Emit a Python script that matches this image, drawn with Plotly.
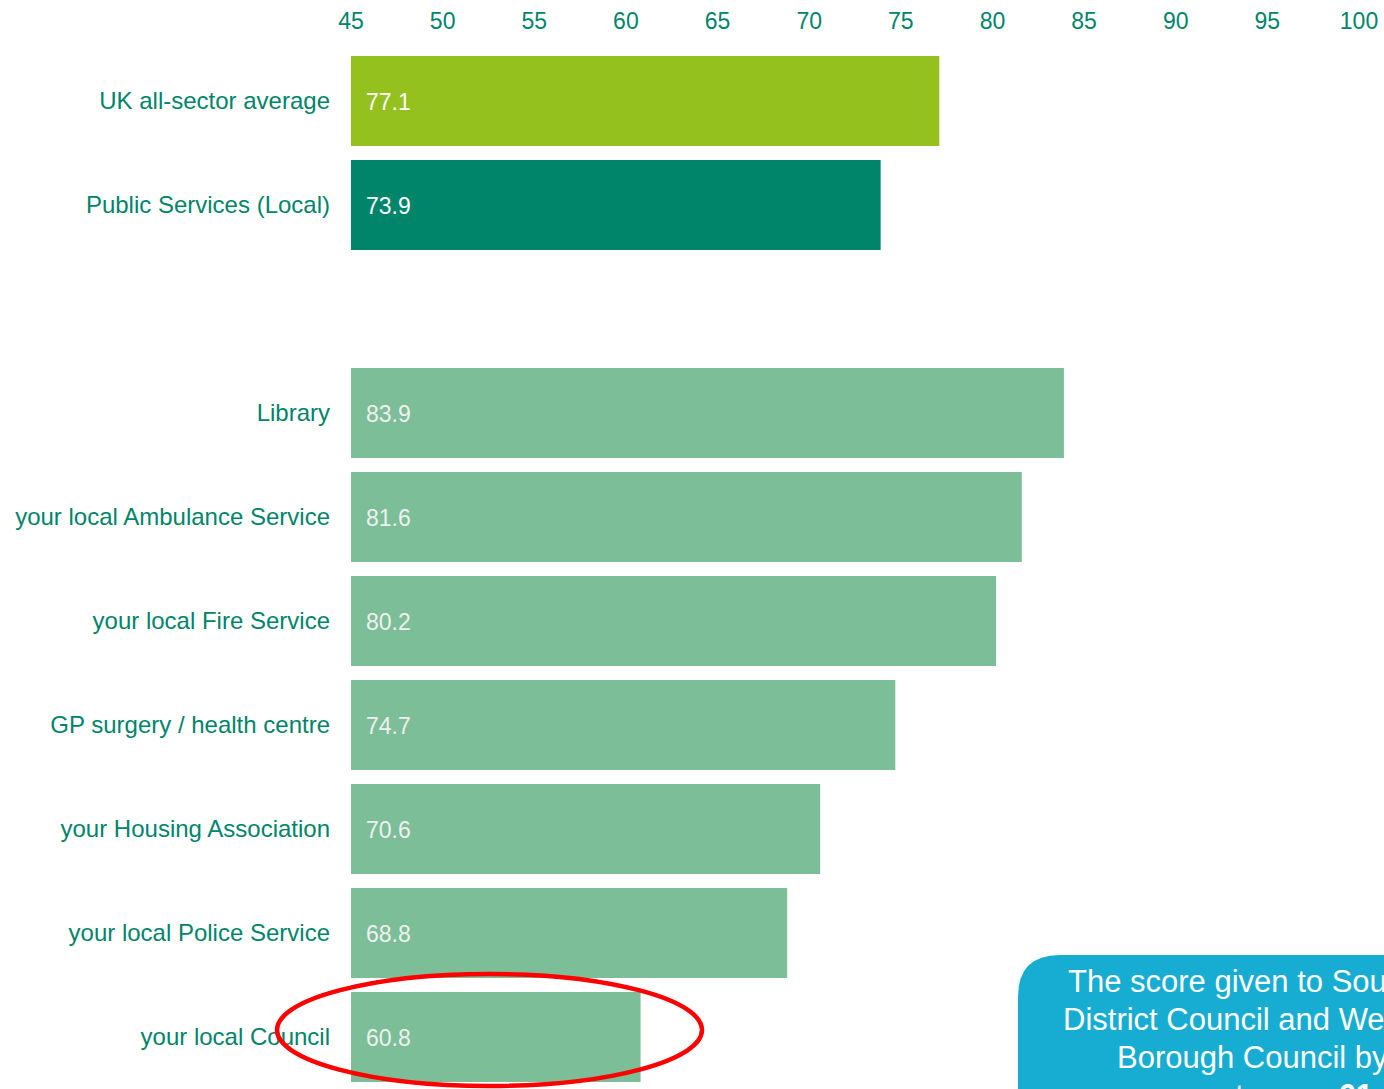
import plotly.graph_objects as go

categories = ["UK all-sector average", "Public Services (Local)", " ",
              "Library", "your local Ambulance Service", "your local Fire Service",
              "GP surgery / health centre", "your Housing Association",
              "your local Police Service", "your local Council"]
scores = [77.1, 73.9, None, 83.9, 81.6, 80.2, 74.7, 70.6, 68.8, 60.8]
bar_colors = ["#95C11F", "#00856A", "#FFFFFF", "#7BBE97", "#7BBE97", "#7BBE97",
              "#7BBE97", "#7BBE97", "#7BBE97", "#7BBE97"]
label_colors = ["#FFFFFF", "#FFFFFF", "#FFFFFF", "#F0F0F0", "#F0F0F0", "#F0F0F0",
                "#F0F0F0", "#F0F0F0", "#F0F0F0", "#F0F0F0"]
x_ticks = [45, 50, 55, 60, 65, 70, 75, 80, 85, 90, 95, 100]
box_lines = ["The score given to South Somerset",
             "District Council and West Somerset",
             "Borough Council by",
             "customers <b>61</b>"]
box_line_starts = [1066, 1061, 1115, 1185]

W, H = 1384, 1089
ML, MR, MT, MB = 351, W - 1359, 49, 0
PW, PH = W - ML - MR, H - MT - MB


def px(x):
    return (x - ML) / PW


def py(y):
    return (H - MB - y) / PH


GREEN = "#00856A"
FONT = "Liberation Sans, Arial, sans-serif"

fig = go.Figure()
fig.add_trace(go.Bar(
    y=categories, x=scores, orientation="h",
    marker=dict(color=bar_colors, line=dict(width=0)),
    hoverinfo="skip", showlegend=False,
))

for cat, val, col in zip(categories, scores, label_colors):
    if val is None:
        continue
    fig.add_annotation(x=x_ticks[0], y=cat, xref="x", yref="y", text=f"{val:.1f}",
                       showarrow=False, xanchor="left", yanchor="middle", xshift=13,
                       yshift=-1, font=dict(family=FONT, size=23, color=col))

# rounded info box
bx0, by0, r = 1018, 955, 42
bx1, by1 = 1600, 1300
path = (f"M {px(bx0)},{py(by0 + r)} "
        f"Q {px(bx0)},{py(by0)} {px(bx0 + r)},{py(by0)} "
        f"L {px(bx1)},{py(by0)} L {px(bx1)},{py(by1)} L {px(bx0)},{py(by1)} Z")
fig.add_shape(type="path", path=path, xref="paper", yref="paper",
              fillcolor="#17ADD3", line=dict(width=0), layer="above")

for i, (t, sx) in enumerate(zip(box_lines, box_line_starts)):
    fig.add_annotation(x=px(sx), y=py(981 + 38 * i), xref="paper", yref="paper",
                       text=t, showarrow=False, xanchor="left", yanchor="middle",
                       font=dict(family=FONT, size=31, color="#FFFFFF"))

# red ellipse highlighting the council bar
fig.add_shape(type="circle", xref="paper", yref="paper",
              x0=px(277), x1=px(702), y0=py(1086), y1=py(974),
              line=dict(color="#FF0000", width=4.5), fillcolor="rgba(0,0,0,0)",
              layer="above")

fig.update_layout(
    width=W, height=H,
    margin=dict(l=ML, r=MR, t=MT, b=MB, pad=0),
    paper_bgcolor="#FFFFFF", plot_bgcolor="#FFFFFF",
    bargap=14 / 104,
    font=dict(family=FONT, size=24, color=GREEN),
    xaxis=dict(range=[45, 100], side="top", tickvals=x_ticks, showgrid=False,
               zeroline=False, showline=False, ticks="", ticklabelstandoff=14,
               tickfont=dict(size=23, color=GREEN)),
    yaxis=dict(categoryorder="array", categoryarray=categories, autorange="reversed",
               showgrid=False, zeroline=False, showline=False, ticks="",
               ticklabelstandoff=20, tickfont=dict(size=24, color=GREEN)),
)

fig.write_html("out.html")
